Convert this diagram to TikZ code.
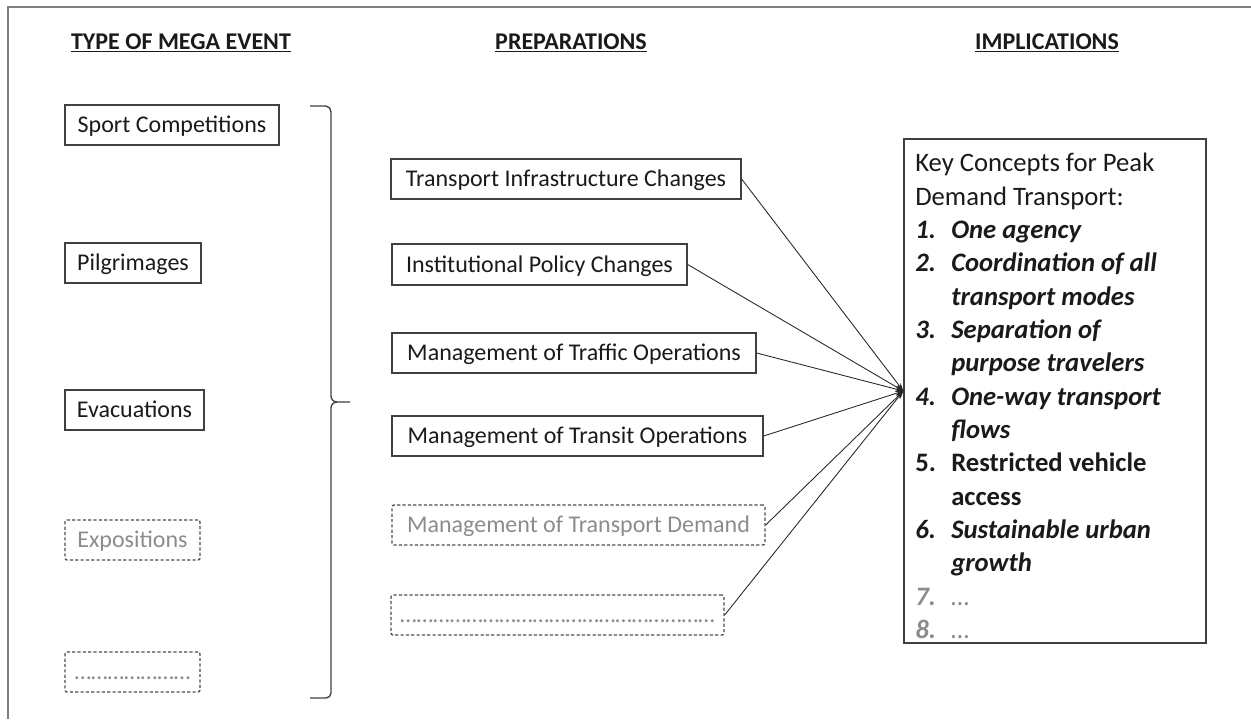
\documentclass[tikz,border=0pt]{standalone}
\usepackage{fontspec}
\setmainfont{Carlito}
\usetikzlibrary{arrows.meta,fit}
\definecolor{boxline}{HTML}{404040}
\definecolor{txt}{HTML}{1A1A1A}
\definecolor{dimtxt}{HTML}{8C8C8C}
\definecolor{dimline}{HTML}{4D4D4D}
\definecolor{framecol}{HTML}{7F7F7F}
\newcommand{\itemnum}[1]{\makebox[27pt][l]{#1}}
\newcommand{\itemcont}{\hspace*{27pt}}
\begin{document}
\begin{tikzpicture}[x=0.75pt,y=-0.75pt,
  boxtext/.style={font=\fontsize{18}{21}\selectfont, text=txt, text height=11.6pt, text depth=0pt},
  solidbox/.style={draw=boxline, line width=1pt, inner sep=0pt, minimum height=30pt, boxtext},
  dashbox/.style={draw=dimline, line width=1pt, dash pattern=on 2.4pt off 1.6pt,
    rounded corners=1.5pt, inner sep=0pt, minimum height=30pt, boxtext, text=dimtxt},
  heading/.style={font=\fontsize{18}{21}\selectfont\bfseries, text=txt, anchor=base, inner sep=0pt},
  link/.style={draw=black!85, line width=0.65pt, -{Stealth[length=6pt,width=4pt]}},
  bracestyle/.style={draw=boxline, line width=1pt},
  frameline/.style={draw=framecol, line width=1.5pt}]
\useasboundingbox (0,0) rectangle (1251,719);
\draw[frameline] (8,719) -- (8,7) -- (1251,7);

% headings
\node[heading] (h1) at (181,49) {\underline{TYPE OF MEGA EVENT}};
\node[heading] (h2) at (571,49) {\underline{PREPARATIONS}};
\node[heading] (h3) at (1047,49) {\underline{IMPLICATIONS}};

% left column
\node[solidbox, minimum width=160.5pt] (sport) at (172,125) {Sport Competitions};
\node[solidbox, minimum width=102pt] (pilg) at (133,263) {Pilgrimages};
\node[solidbox, minimum width=104.25pt] (evac) at (134.5,410) {Evacuations};
\node[dashbox, minimum width=101.25pt] (expo) at (132.5,540) {Expositions};
\node[dashbox, minimum width=101.25pt] (more1) at (132.5,672) {…………………};

% brace
\draw[bracestyle] (310,106) -- (326,106) to[out=0,in=90] (331,112) -- (331,396)
  to[out=-90,in=180] (337,402) -- (350,402);
\draw[bracestyle] (337,402) to[out=180,in=90] (331,408) -- (331,693)
  to[out=-90,in=0] (326,698) -- (310,698);

% middle column
\node[solidbox, minimum width=262.5pt] (t1) at (566,179) {Transport Infrastructure Changes};
\node[solidbox, minimum width=221.25pt, minimum height=30.75pt] (t2) at (539.5,264.5) {Institutional Policy Changes};
\node[solidbox, minimum width=273pt] (t3) at (574,353) {Management of Traffic Operations};
\node[solidbox, minimum width=278.25pt] (t4) at (577.5,436) {Management of Transit Operations};
\node[dashbox, minimum width=279.75pt] (t5) at (578.5,525) {Management of Transport Demand};
\node[dashbox, minimum width=249.75pt] (t6) at (557.5,615) {…………………………………………………};

% implications
\node[draw=boxline, line width=1pt, inner sep=0pt, fit={(904,139)(1206,643)}] (impl) {};
\node[anchor=north west, inner sep=0pt, align=left,
  font=\fontsize{20}{25}\selectfont, text=txt] (impltext) at (915,153) {%
Key Concepts for Peak\\
Demand Transport:\\
\textbf{\textit{\itemnum{1.}One agency}}\\
\textbf{\textit{\itemnum{2.}Coordination of all}}\\
\textbf{\textit{\itemcont transport modes}}\\
\textbf{\textit{\itemnum{3.}Separation of}}\\
\textbf{\textit{\itemcont purpose travelers}}\\
\textbf{\textit{\itemnum{4.}One-way transport}}\\
\textbf{\textit{\itemcont flows}}\\
\textbf{\itemnum{5.}Restricted vehicle}\\
\textbf{\itemcont access}\\
\textbf{\textit{\itemnum{6.}Sustainable urban}}\\
\textbf{\textit{\itemcont growth}}\\
\textcolor{dimtxt}{\textbf{\textit{\itemnum{7.}}}\textit{…}}\\
\textcolor{dimtxt}{\textbf{\textit{\itemnum{8.}}}\textit{…}}};

% connectors
\draw[link] (t1.east) -- (impl.west);
\draw[link] (t2.east) -- (impl.west);
\draw[link] (t3.east) -- (impl.west);
\draw[link] (t4.east) -- (impl.west);
\draw[link] (t5.east) -- (impl.west);
\draw[link] (t6.east) -- (impl.west);
\end{tikzpicture}
\end{document}
